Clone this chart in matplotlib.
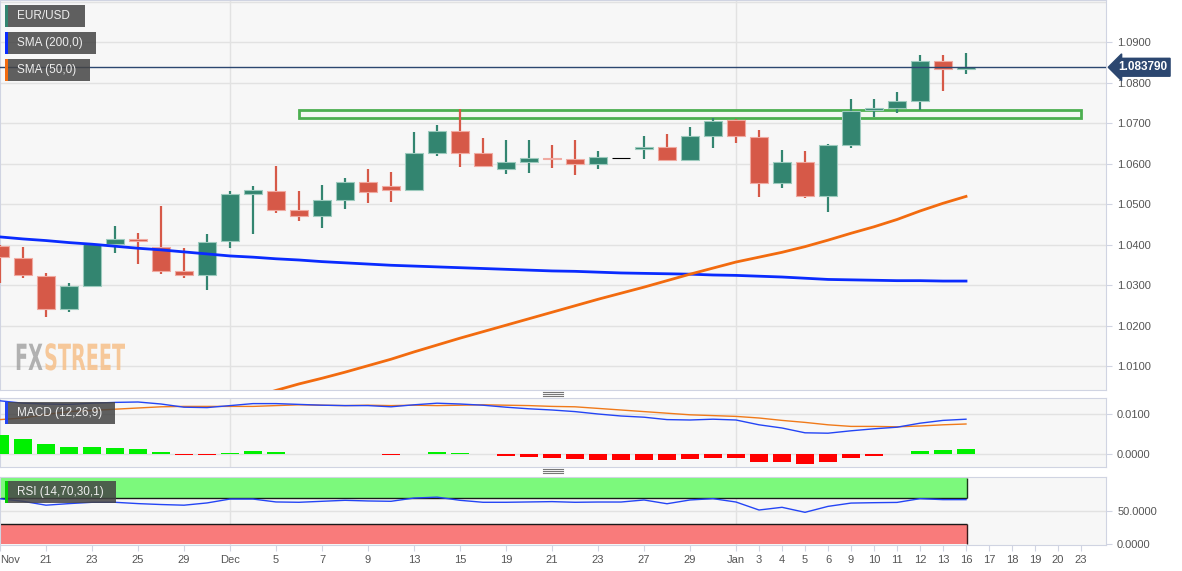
import numpy as np
import matplotlib
matplotlib.use('Agg')
import matplotlib.pyplot as plt
from matplotlib.patches import Rectangle, PathPatch
from matplotlib.lines import Line2D
from matplotlib.textpath import TextPath
from matplotlib.font_manager import FontProperties
from matplotlib.transforms import Affine2D, blended_transform_factory

plt.rcParams['font.family'] = ['Liberation Sans', 'DejaVu Sans']

# one slot per trading day, Nov 17 .. Jan 23
tick_labels = ['Nov', '', '21', '', '23', '', '25', '', '29', '', 'Dec', '', '5', '', '7', '', '9', '',
               '13', '', '15', '', '19', '', '21', '', '23', '', '27', '', '29', '',
               'Jan', '3', '4', '5', '6', '9', '10', '11', '12', '13', '16', '17', '18', '19', '20', '23']

opens = [1.0397, 1.0368, 1.0323, 1.0242, 1.0299, 1.0402, 1.0413, 1.0394, 1.0335, 1.0326, 1.0408,
         1.0525, 1.0533, 1.0485, 1.0470, 1.0510, 1.0555, 1.0544, 1.0536, 1.0627, 1.0680, 1.0625,
         1.0586, 1.0604, 1.0615, 1.0611, 1.0598, 1.0613, 1.0636, 1.0641, 1.0608, 1.0669, 1.0708,
         1.0665, 1.0553, 1.0603, 1.0520, 1.0646, 1.0732, 1.0738, 1.0755, 1.0854, 1.0833]
highs = [1.0400, 1.0395, 1.0330, 1.0305, 1.0404, 1.0445, 1.0428, 1.0495, 1.0391, 1.0426, 1.0532,
         1.0544, 1.0594, 1.0532, 1.0547, 1.0564, 1.0586, 1.0579, 1.0677, 1.0695, 1.0735, 1.0663,
         1.0658, 1.0658, 1.0646, 1.0658, 1.0631, 1.0613, 1.0668, 1.0673, 1.0690, 1.0712, 1.0710,
         1.0683, 1.0633, 1.0631, 1.0648, 1.0759, 1.0759, 1.0777, 1.0868, 1.0868, 1.0873]
lows = [1.0305, 1.0318, 1.0222, 1.0233, 1.0296, 1.0380, 1.0353, 1.0328, 1.0318, 1.0288, 1.0392,
        1.0427, 1.0479, 1.0459, 1.0441, 1.0488, 1.0503, 1.0506, 1.0532, 1.0619, 1.0592, 1.0592,
        1.0575, 1.0577, 1.0590, 1.0572, 1.0586, 1.0613, 1.0611, 1.0607, 1.0607, 1.0639, 1.0651,
        1.0518, 1.0540, 1.0514, 1.0481, 1.0639, 1.0714, 1.0725, 1.0732, 1.0779, 1.0822]
closes = [1.0369, 1.0324, 1.0241, 1.0299, 1.0402, 1.0413, 1.0409, 1.0335, 1.0326, 1.0407, 1.0525,
          1.0534, 1.0485, 1.0470, 1.0510, 1.0555, 1.0530, 1.0536, 1.0627, 1.0680, 1.0626, 1.0594,
          1.0604, 1.0615, 1.0611, 1.0599, 1.0617, 1.0613, 1.0641, 1.0608, 1.0668, 1.0706, 1.0668,
          1.0553, 1.0604, 1.0520, 1.0646, 1.0730, 1.0737, 1.0754, 1.0853, 1.0834, 1.08379]

sma200 = [1.0419, 1.0414, 1.0410, 1.0405, 1.0401, 1.0396, 1.0391, 1.0387, 1.0382, 1.0377, 1.0372,
          1.0369, 1.0365, 1.0362, 1.0358, 1.0355, 1.0352, 1.0349, 1.0347, 1.0345, 1.0343, 1.0341,
          1.0339, 1.0337, 1.0335, 1.0334, 1.0332, 1.0330, 1.0329, 1.0328, 1.0327, 1.0325, 1.0324,
          1.0322, 1.0320, 1.0317, 1.0314, 1.0313, 1.0312, 1.0311, 1.0311, 1.0310, 1.0310]
sma50_start = 11
sma50 = [1.0023, 1.0040, 1.0056, 1.0070, 1.0085, 1.0101, 1.0117, 1.0135, 1.0152, 1.0169, 1.0185,
         1.0201, 1.0217, 1.0233, 1.0249, 1.0265, 1.0280, 1.0295, 1.0311, 1.0327, 1.0342, 1.0357,
         1.0369, 1.0381, 1.0395, 1.0411, 1.0428, 1.0444, 1.0462, 1.0483, 1.0502, 1.0519]

macd = [0.0133, 0.0127, 0.0125, 0.0124, 0.0127, 0.0129, 0.0130, 0.0125, 0.0117, 0.0116, 0.0121,
        0.0126, 0.0126, 0.0124, 0.0122, 0.0121, 0.0121, 0.0118, 0.0123, 0.0127, 0.0125, 0.0122,
        0.0117, 0.0113, 0.0110, 0.0106, 0.0100, 0.0095, 0.0092, 0.0086, 0.0085, 0.0087, 0.0085,
        0.0073, 0.0065, 0.0053, 0.0052, 0.0058, 0.0063, 0.0067, 0.0077, 0.0084, 0.0087]
signal = [0.0086, 0.0090, 0.0099, 0.0106, 0.0109, 0.0112, 0.0115, 0.0118, 0.0119, 0.0119, 0.0119,
          0.0119, 0.0121, 0.0123, 0.0122, 0.0121, 0.0122, 0.0121, 0.0122, 0.0121, 0.0122, 0.0123,
          0.0122, 0.0121, 0.0119, 0.0118, 0.0114, 0.0110, 0.0106, 0.0102, 0.0098, 0.0096, 0.0094,
          0.0090, 0.0084, 0.0079, 0.0073, 0.0069, 0.0069, 0.0068, 0.0070, 0.0073, 0.0075]
hist = [0.0047, 0.0038, 0.0025, 0.0017, 0.0017, 0.0016, 0.0013, 0.0006, -0.0003, -0.0003, 0.0003,
        0.0008, 0.0005, 0.0001, 0.00005, 0.0001, -0.0001, -0.0003, 0.0001, 0.0006, 0.0003, -0.0001,
        -0.0005, -0.0008, -0.0009, -0.0013, -0.0014, -0.0015, -0.0014, -0.0016, -0.0013, -0.0009,
        -0.0010, -0.0019, -0.0019, -0.0026, -0.0021, -0.0009, -0.0006, -0.0001, 0.0008, 0.0011, 0.0013]

rsi = [68.6, 64.7, 58.8, 61.2, 63.2, 63.2, 61.2, 59.8, 58.8, 62.2, 68.1, 68.1, 63.7, 63.2, 64.7,
       66.2, 65.2, 64.7, 69.6, 71.0, 66.2, 63.2, 63.2, 63.7, 64.2, 63.2, 63.6, 63.6, 66.7, 61.0,
       66.7, 68.7, 63.6, 51.5, 55.6, 48.0, 57.0, 62.0, 62.6, 63.0, 68.7, 67.2, 67.2]

last_price = 1.083790
zone_left, zone_right = 13, 47
zone_low, zone_high = 1.0712, 1.0732

GREEN = '#338570'
RED = '#d65948'
BG = '#f7f7f7'
GRID = '#e2e2e2'
EDGE = '#d0d4e2'
TXT = '#555555'

W, H = 1182, 571
fig = plt.figure(figsize=(W / 100, H / 100), dpi=100)


def frame(top, bottom, left=0, right=1106):
    return [left / W, 1 - bottom / H, (right - left) / W, (bottom - top) / H]


ax = fig.add_axes(frame(0, 390))
ax_macd = fig.add_axes(frame(398, 467), sharex=ax)
ax_rsi = fig.add_axes(frame(477, 545), sharex=ax)

for a in (ax, ax_macd, ax_rsi):
    a.set_facecolor(BG)
    for s in a.spines.values():
        s.set_color(EDGE)
    a.yaxis.tick_right()
    a.tick_params(axis='y', colors=EDGE, labelcolor=TXT, labelsize=8, length=4, pad=4)
    a.tick_params(axis='x', colors=EDGE, labelcolor=TXT, labelsize=8, length=4)
    for d in (10, 32):
        a.axvline(d, color=GRID, lw=1, zorder=0)

x = np.arange(len(opens))
o = np.array(opens)
c = np.array(closes)
colors = [GREEN if cc > oo else RED if cc < oo else 'black' for oo, cc in zip(o, c)]
edges = ['#9ccabd' if cc > oo else '#f0aaa1' if cc < oo else 'black' for oo, cc in zip(o, c)]

# main price panel
for lv in np.arange(1.01, 1.101, 0.01):
    ax.axhline(lv, color=GRID, lw=1, zorder=0)
ax.vlines(x, lows, highs, colors=colors, lw=1.6, zorder=3)
ax.bar(x, np.abs(c - o), bottom=np.minimum(o, c), width=0.76, color=colors,
       edgecolor=edges, lw=0.8, zorder=4)
ax.add_patch(Rectangle((zone_left, zone_low), zone_right - zone_left, zone_high - zone_low,
                       fc='#f3f8f2', ec='#4caf50', lw=2, zorder=2))
ax.plot(x, sma200, color='#0a2bff', lw=2, zorder=5)
ax.plot(x[sma50_start:], sma50, color='#f26b0f', lw=2, zorder=5)
ax.axhline(last_price, color='#2c4770', lw=1, zorder=6)
trans = blended_transform_factory(ax.transAxes, ax.transData)
ax.text(1 + 12 / 1106, last_price, '{:.6f}'.format(last_price), transform=trans, ha='left',
        va='center', color='white', fontsize=8.5, fontweight='bold', clip_on=False,
        bbox=dict(boxstyle='larrow,pad=0.25', fc='#2c4770', ec='#2c4770'))
ax.set_ylim(1.0041, 1.1004)
ax.set_yticks(np.arange(1.01, 1.091, 0.01))
ax.set_yticklabels(['{:.4f}'.format(v) for v in np.arange(1.01, 1.091, 0.01)])
ax.tick_params(axis='x', which='both', bottom=False, labelbottom=False)

# MACD panel
ax_macd.axhline(0.01, color=GRID, lw=1, zorder=0)
ax_macd.axhline(0.0, color=GRID, lw=1, zorder=0)
hcol = ['#00f000' if h >= 0 else '#ff0000' for h in hist]
ax_macd.bar(x, hist, width=0.78, color=hcol, zorder=3)
ax_macd.plot(x, signal, color='#f07a1a', lw=1, zorder=4)
ax_macd.plot(x, macd, color='#2445f5', lw=1, zorder=4)
ax_macd.set_ylim(-0.00325, 0.014)
ax_macd.set_yticks([0.0, 0.01])
ax_macd.set_yticklabels(['0.0000', '0.0100'])
ax_macd.tick_params(axis='x', which='both', bottom=False, labelbottom=False)

# RSI panel
ax_rsi.axhline(50, color=GRID, lw=1, zorder=0)
band_end = x[-1] + 0.05
ax_rsi.fill_between([-1, band_end], 70, 100, color='#7cf97c', lw=0, zorder=1)
ax_rsi.fill_between([-1, band_end], 0, 30, color='#f97b7b', lw=0, zorder=1)
ax_rsi.hlines([70, 30], -1, band_end, colors='#1a1a1a', lw=1, zorder=2)
ax_rsi.vlines(band_end, 70, 100, colors='#1a3a1a', lw=1, zorder=2)
ax_rsi.vlines(band_end, 0, 30, colors='#3a1a1a', lw=1, zorder=2)
ax_rsi.plot(x, rsi, color='#2445f5', lw=1, zorder=3)
ax_rsi.set_ylim(-1.5, 101.5)
ax_rsi.set_yticks([0, 50])
ax_rsi.set_yticklabels(['0.0000', '50.0000'])
ticks = [i for i, t in enumerate(tick_labels) if t]
ax_rsi.set_xticks(ticks)
ax_rsi.set_xticklabels([tick_labels[i] for i in ticks])
ax_rsi.get_xticklabels()[0].set_horizontalalignment('left')

ax.set_xlim(0, 1106 / 23)

# panel resize handles
for yy in (394, 471):
    for k in (-2, 0, 2):
        fig.add_artist(Line2D([543 / W, 563 / W], [1 - (yy + k) / H] * 2, color='#777777', lw=0.8))


# legend boxes
def label_box(x0, y0, x1, y1, stripe, text):
    fig.add_artist(Rectangle((x0 / W, 1 - y1 / H), (x1 - x0) / W, (y1 - y0) / H,
                             transform=fig.transFigure, fc='#444444', alpha=0.85, lw=0, zorder=10))
    fig.add_artist(Rectangle((x0 / W, 1 - y1 / H), 3 / W, (y1 - y0) / H,
                             transform=fig.transFigure, fc=stripe, lw=0, zorder=11))
    fig.text((x0 + 12) / W, 1 - (y0 + y1) / 2 / H, text, color='#eeeeee', fontsize=8.5,
             va='center', ha='left', zorder=12)


label_box(5, 5, 85, 27, GREEN, 'EUR/USD')
label_box(5, 32, 96, 54, '#0a2bff', 'SMA (200,0)')
label_box(5, 59, 90, 81, '#f26b0f', 'SMA (50,0)')
label_box(5, 402, 115, 424, '#2445f5', 'MACD (12,26,9)')
label_box(5, 481, 116, 503, '#00d000', 'RSI (14,70,30,1)')

# FXSTREET watermark, squeezed horizontally
fp = FontProperties(family='DejaVu Sans', weight='bold')
p_fx = TextPath((0, 0), 'FX', size=38, prop=fp)
p_st = TextPath((0, 0), 'STREET', size=38, prop=fp)
w_fx = p_fx.get_extents().x1 + 3
w_all = w_fx + p_st.get_extents().x1
sx = 110 / w_all
base = Affine2D().scale(sx, 0.95).translate(15, H - 370)
fig.add_artist(PathPatch(p_fx, transform=base, fc='#9a9a9a', ec='none', alpha=0.75))
fig.add_artist(PathPatch(p_st, transform=Affine2D().translate(w_fx, 0) + base,
                         fc='#f6c08a', ec='none', alpha=0.85))

fig.savefig('out.png', dpi=100, facecolor='white')
